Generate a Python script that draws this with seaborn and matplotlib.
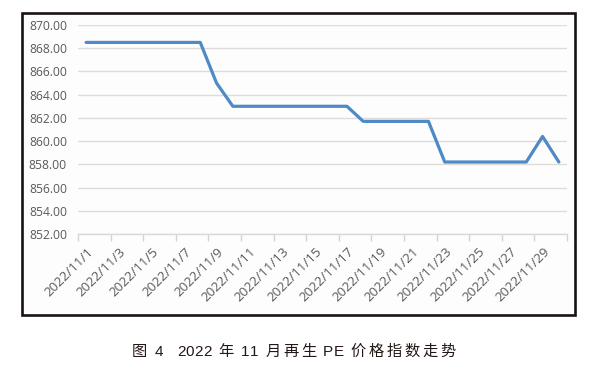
import matplotlib
matplotlib.use("Agg")
import matplotlib.pyplot as plt
import matplotlib.transforms as mtransforms
import seaborn as sns
import pandas as pd
from matplotlib.patches import Rectangle

# ---- data ----
days = list(range(1, 31))
dates = [f"2022/11/{d}" for d in days]
values = [868.5, 868.5, 868.5, 868.5, 868.5, 868.5, 868.5, 868.5,
          865.0,
          863.0, 863.0, 863.0, 863.0, 863.0, 863.0, 863.0, 863.0,
          861.7, 861.7, 861.7, 861.7, 861.7,
          858.2, 858.2, 858.2, 858.2, 858.2, 858.2,
          860.4, 858.2]
y_ticks = [852, 854, 856, 858, 860, 862, 864, 866, 868, 870]
caption = "图 4  2022 年 11 月再生 PE 价格指数走势"

df = pd.DataFrame({"idx": range(len(dates)), "date": dates, "value": values})

sns.set_theme(style="white")
plt.rcParams["font.family"] = ["Open Sans", "DejaVu Sans"]

W, H = 601, 388
fig = plt.figure(figsize=(W / 100, H / 100), dpi=100)
fig.patch.set_facecolor("white")

# outer frame
fig.patches.append(Rectangle((22 / W, 1 - 315 / H), (575 - 22) / W, (315 - 13) / H,
                             transform=fig.transFigure, fill=True, facecolor="#fdfdfd",
                             edgecolor="#1a1212", linewidth=1.9, zorder=-5))

ax = fig.add_axes([78 / W, 1 - 234 / H, (567 - 78) / W, (234 - 25) / H])
ax.set_facecolor("none")
ax.set_zorder(2)

sns.lineplot(data=df, x="idx", y="value", ax=ax, color="#4d8ac6", linewidth=2.3, zorder=3)

ax.set_xlim(-0.5, len(dates) - 0.5)
ax.set_ylim(852, 870)
ax.set_yticks(y_ticks)
ax.set_yticklabels([f"{v:.2f}" for v in y_ticks], color="#595959", fontsize=8.7)
ax.yaxis.grid(True, color="#dedbd9", linewidth=1.0)
ax.tick_params(axis="y", length=0, pad=8)

label_idx = list(range(0, len(dates), 2))
ax.set_xticks(label_idx)
ax.set_xticklabels([dates[i] for i in label_idx], rotation=45, ha="right", va="center",
                   rotation_mode="anchor", color="#595959", fontsize=9.6)
ax.tick_params(axis="x", length=0, pad=11.5)
shift = mtransforms.ScaledTranslation(5 / 100, 0, fig.dpi_scale_trans)
for lab in ax.get_xticklabels():
    lab.set_transform(lab.get_transform() + shift)
# minor ticks at category boundaries
ax.set_xticks([b - 0.5 for b in range(0, len(dates) + 1, 2)], minor=True)
ax.tick_params(axis="x", which="minor", bottom=True, length=5, color="#d4d4d4",
               width=1, direction="out")

for s in ["top", "right", "left"]:
    ax.spines[s].set_visible(False)
ax.spines["bottom"].set_color("#d9d9d9")
ax.spines["bottom"].set_linewidth(1.0)
ax.set_xlabel("")
ax.set_ylabel("")

# caption, laid out character by character with slight tracking
renderer = fig.canvas.get_renderer()
x_px = 132.0
prev = ""
for ch in caption:
    if ch == " ":
        x_px += 7.0
        prev = ch
        continue
    if prev not in ("", " "):
        both_latin = ch.isascii() and prev.isascii()
        x_px += 0.3 if both_latin else 2.6
    t = fig.text(x_px / W, 1 - 352 / H, ch, ha="left", va="center", fontsize=11,
                 color="#231815", family=["Liberation Sans", "Noto Sans CJK SC"])
    x_px += t.get_window_extent(renderer).width
    prev = ch

fig.savefig("out.png", dpi=100)
